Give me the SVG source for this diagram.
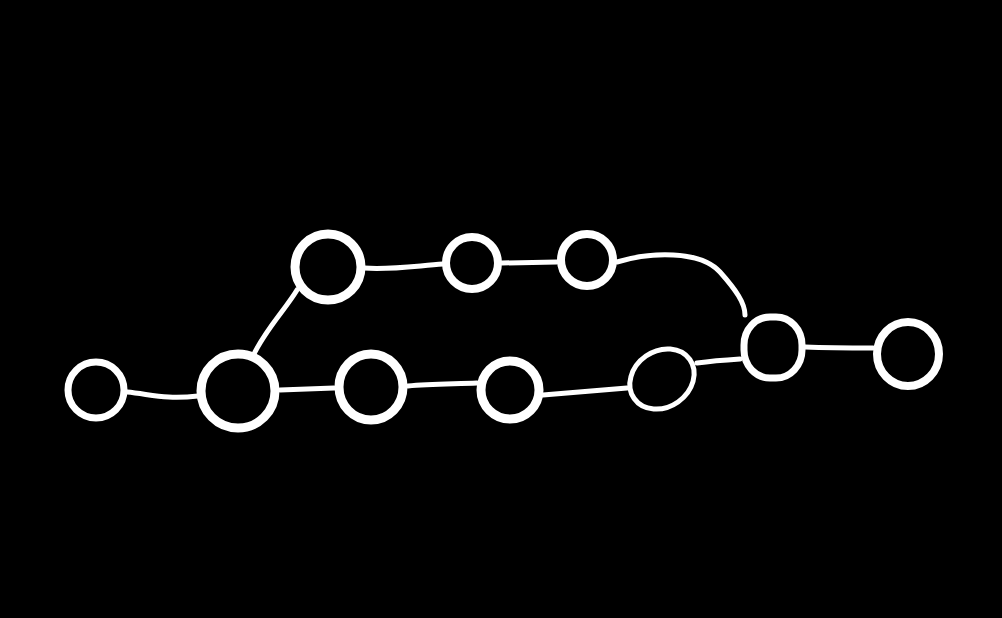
<svg xmlns="http://www.w3.org/2000/svg" width="1002" height="618" viewBox="0 0 1002 618">
<style>
.node{fill:none;stroke:#ffffff;stroke-linecap:round}
.edge{fill:none;stroke:#ffffff;stroke-width:5;stroke-linecap:round}
</style>
<rect x="0" y="0" width="1002" height="618" fill="#000000"/>
<g id="connectors">
<path class="edge" d="M127,392 C150,394 165,400 198,396"/>
<path class="edge" d="M280,390 L334,388"/>
<path class="edge" d="M253,356 C265,330 285,310 297,290"/>
<path class="edge" d="M364,268 C390,270 415,266 443,264"/>
<path class="edge" d="M502,263 L557,262"/>
<path class="edge" d="M408,386 C430,384 455,384 477,383"/>
<path class="edge" d="M543,395 C570,393 600,390 627,388"/>
<path class="edge" d="M697,363 C712,361 725,360 740,359"/>
<path class="edge" d="M805,347 C830,348 850,348 873,348"/>
<path class="edge" d="M617,262 C650,252 700,250 720,272 C736,290 745,303 745,315"/>
</g>
<g id="n1"><ellipse class="node" cx="96" cy="390" rx="28" ry="28" stroke-width="7"/></g>
<g id="n2"><ellipse class="node" cx="238" cy="391" rx="37" ry="37" stroke-width="9"/></g>
<g id="n3"><ellipse class="node" cx="371" cy="387" rx="32" ry="33" stroke-width="9"/></g>
<g id="n4"><ellipse class="node" cx="510" cy="390" rx="29" ry="29" stroke-width="9"/></g>
<g id="n5"><ellipse class="node" cx="662" cy="379" rx="34" ry="28" stroke-width="5" transform="rotate(-35 662 379)"/></g>
<g id="n6"><rect class="node" x="744" y="317" width="58" height="61" rx="26" ry="28" stroke-width="7"/></g>
<g id="n7"><ellipse class="node" cx="908" cy="354" rx="31" ry="32" stroke-width="8"/></g>
<g id="t1"><ellipse class="node" cx="328" cy="267" rx="33" ry="33" stroke-width="9"/></g>
<g id="t2"><ellipse class="node" cx="472" cy="263" rx="26" ry="26" stroke-width="8"/></g>
<g id="t3"><ellipse class="node" cx="587" cy="260" rx="26" ry="26" stroke-width="8"/></g>
</svg>
